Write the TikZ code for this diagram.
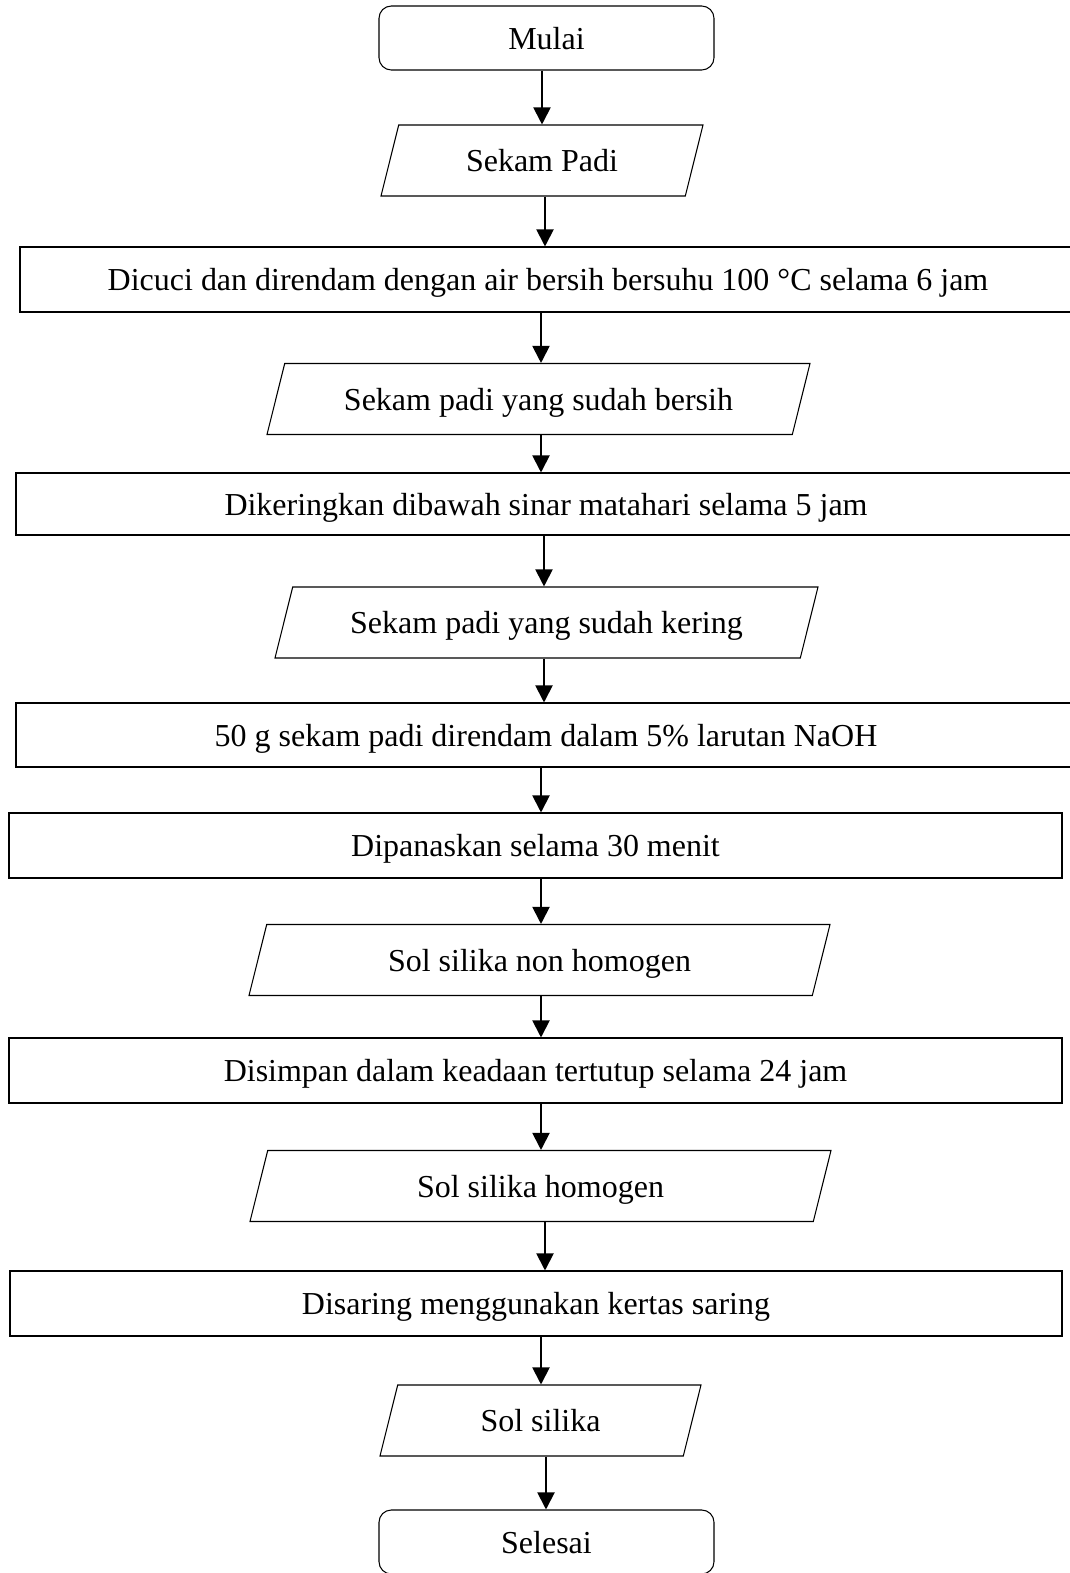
\documentclass[tikz,border=0pt]{standalone}
\usepackage{fontspec}
\setmainfont{Liberation Serif}
\usepackage{tikz}
\usetikzlibrary{shapes.geometric,arrows.meta,positioning}

\begin{document}
\begin{tikzpicture}[
  every node/.style={font=\fontsize{18.2}{21}\selectfont, text height=0.56cm, text depth=0.12cm},
  termbox/.style={draw, rounded corners=7pt, line width=0.6pt, minimum width=6.7cm, minimum height=1.28cm},
  prosesbox/.style={draw, line width=0.6pt, minimum height=1.3cm},
  databox/.style={draw, trapezium, trapezium left angle=76, trapezium right angle=104,
    trapezium stretches body, line width=0.6pt, inner xsep=0pt, inner ysep=0.37cm},
  arr/.style={-{Triangle[length=3.4mm, width=3.4mm]}, line width=1.1pt}
]
\useasboundingbox (0,0) rectangle (21.4,-31.46);
\clip (0,0) rectangle (21.4,-31.46);

\node[termbox] (mulai) at (10.93,-0.76) {Mulai};
\node[databox, minimum width=6.44cm] (padi) at (10.84,-3.21) {Sekam Padi};
\node[prosesbox, minimum width=21.12cm] (cuci) at (10.96,-5.59)
  {Dicuci dan direndam dengan air bersih bersuhu 100 °C selama 6 jam};
\node[databox, minimum width=10.86cm] (bersih) at (10.77,-7.98) {Sekam padi yang sudah bersih};
\node[prosesbox, minimum width=21.2cm, minimum height=1.24cm] (kering) at (10.92,-10.08)
  {Dikeringkan dibawah sinar matahari selama 5 jam};
\node[databox, minimum width=10.86cm] (padikering) at (10.93,-12.45) {Sekam padi yang sudah kering};
\node[prosesbox, minimum width=21.2cm, minimum height=1.28cm] (rendam) at (10.92,-14.7)
  {50 g sekam padi direndam dalam 5\% larutan NaOH};
\node[prosesbox, minimum width=21.06cm] (panas) at (10.71,-16.91) {Dipanaskan selama 30 menit};
\node[databox, minimum width=11.62cm] (nonhomogen) at (10.79,-19.2) {Sol silika non homogen};
\node[prosesbox, minimum width=21.06cm] (simpan) at (10.71,-21.41)
  {Disimpan dalam keadaan tertutup selama 24 jam};
\node[databox, minimum width=11.62cm] (homogen) at (10.81,-23.72) {Sol silika homogen};
\node[prosesbox, minimum width=21.04cm] (saring) at (10.72,-26.07)
  {Disaring menggunakan kertas saring};
\node[databox, minimum width=6.42cm] (sol) at (10.81,-28.41) {Sol silika};
\node[termbox] (selesai) at (10.93,-30.84) {Selesai};

% alur proses
\foreach \a/\b/\x in {mulai/padi/10.84, padi/cuci/10.9, cuci/bersih/10.82, bersih/kering/10.82,
  kering/padikering/10.88, padikering/rendam/10.88, rendam/panas/10.82, panas/nonhomogen/10.82,
  nonhomogen/simpan/10.82, simpan/homogen/10.82, homogen/saring/10.9, saring/sol/10.82,
  sol/selesai/10.92}
{
  \coordinate (ax) at (\x,0);
  \draw[arr] (\a.south -| ax) -- (\b.north -| ax);
}
\end{tikzpicture}
\end{document}
